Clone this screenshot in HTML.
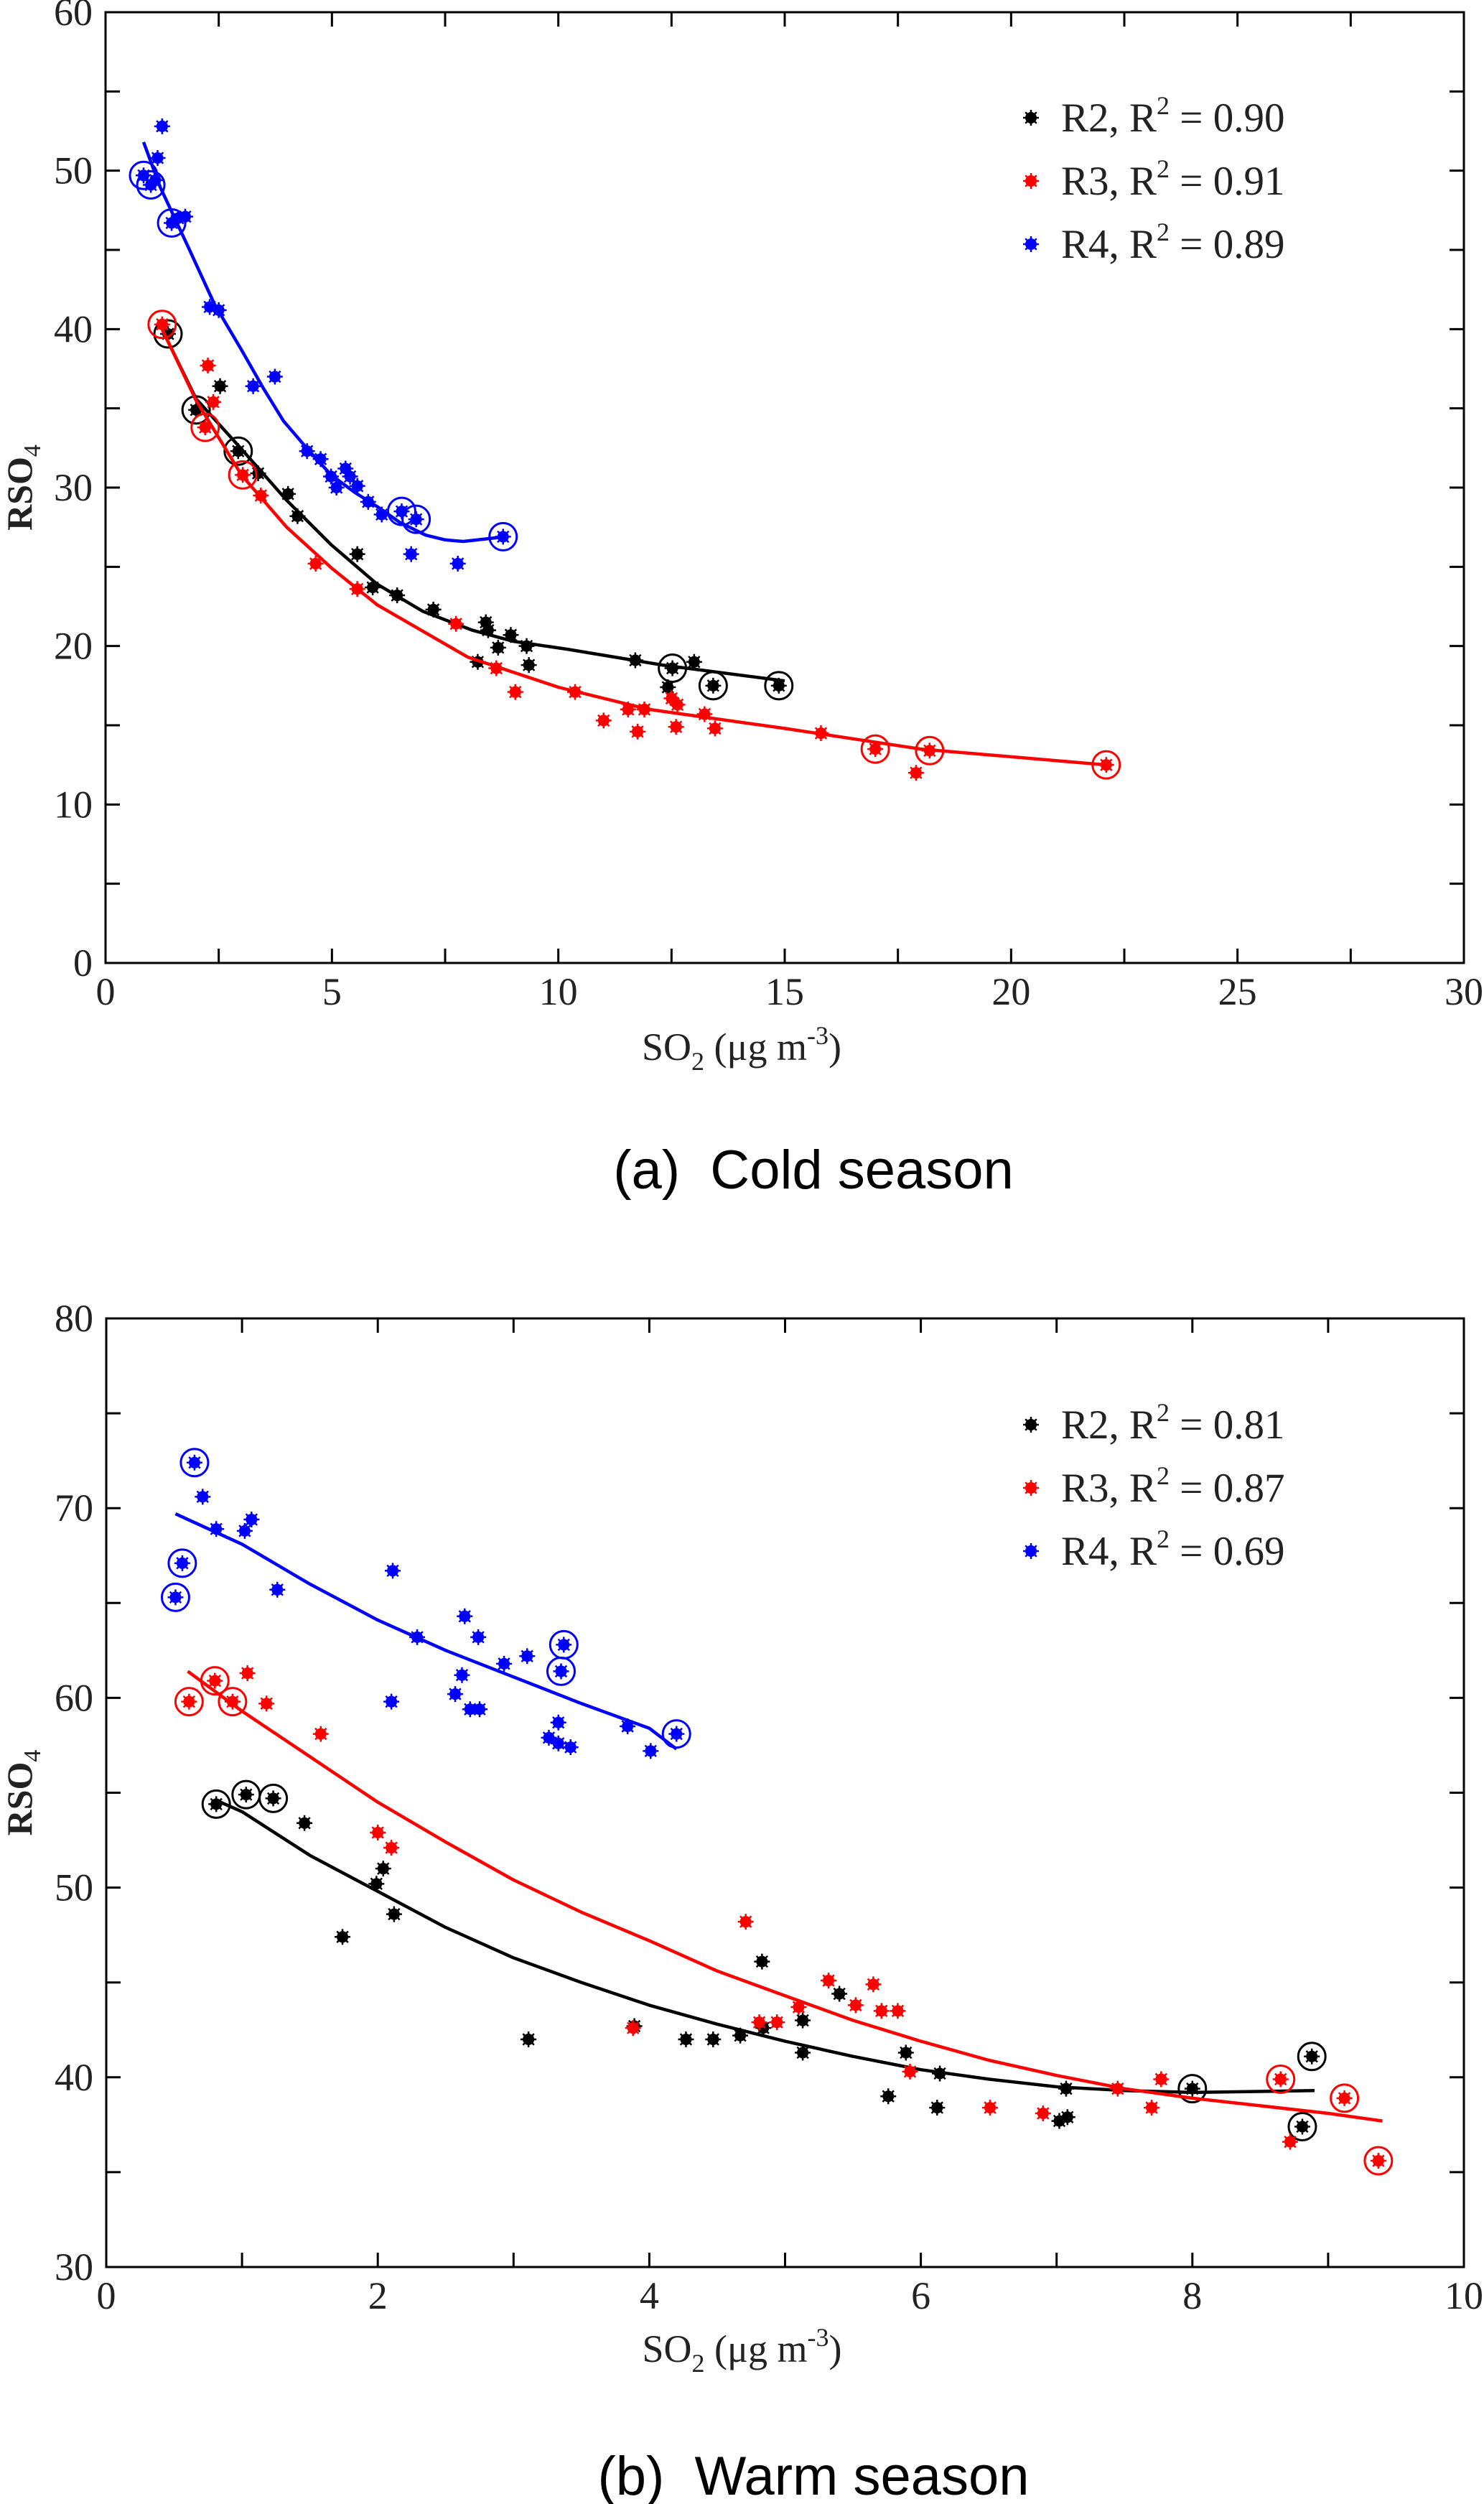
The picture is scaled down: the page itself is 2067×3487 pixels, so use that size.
<!DOCTYPE html>
<html><head><meta charset="utf-8"><style>
html,body{margin:0;padding:0;background:#fff}
svg{display:block}
</style></head><body>
<svg id="fig" width="2067" height="3487" viewBox="0 0 2067 3487" xmlns="http://www.w3.org/2000/svg">
<text x="1133" y="1655" font-family="'Liberation Sans',sans-serif" font-size="76" text-anchor="middle" xml:space="preserve">(a)  Cold season</text>
<text x="1133" y="3474" font-family="'Liberation Sans',sans-serif" font-size="76" text-anchor="middle" xml:space="preserve">(b)  Warm season</text>
</svg>
<script>
// ---- Cold season data ----
const coldR2x=[1.38,2.0,2.53,2.93,3.37,4.03,4.24,5.56,5.9,6.44,7.24,8.22,8.4,8.45,8.67,8.95,9.3,9.35,11.7,12.52,12.42,13.0,13.42,14.87];
const coldR2y=[39.7,34.9,36.4,32.3,30.9,29.6,28.2,25.8,23.7,23.2,22.3,19.0,21.5,21.0,19.9,20.7,20.0,18.8,19.1,18.6,17.4,19.0,17.5,17.5];
const coldR2c=[1,1,0,1,0,0,0,0,0,0,0,0,0,0,0,0,0,0,0,1,0,0,1,1];
const coldR2fx=[1.28,2,2.95,4,4.98,6,7,8.1,9,10.2,12.3,15.0];
const coldR2fy=[39.8,35.6,32.6,29.2,26.4,23.9,22.2,21.0,20.3,19.8,18.8,17.8];
const coldR3x=[1.25,2.2,2.26,2.38,3.03,3.43,4.64,5.56,7.74,8.63,9.05,10.37,11.0,11.54,11.75,11.9,12.5,12.63,12.6,13.23,13.46,15.8,17.0,18.2,17.9,22.1];
const coldR3y=[40.3,33.8,37.7,35.4,30.8,29.5,25.2,23.6,21.4,18.6,17.1,17.1,15.3,16.0,14.6,16.0,16.7,16.3,14.9,15.7,14.8,14.5,13.5,13.4,12.0,12.5];
const coldR3c=[1,1,0,0,1,0,0,0,0,0,0,0,0,0,0,0,0,0,0,0,0,0,1,1,0,1];
const coldR3fx=[1.2,2,3,4,5,6,8,10,12,15,18,22.1];
const coldR3fy=[40.3,35.5,30.8,27.5,24.9,22.6,19.3,17.4,16.0,14.8,13.5,12.5];
const coldR4x=[0.84,1.0,1.15,1.25,1.1,1.46,1.6,1.76,2.3,2.5,3.26,3.74,4.45,4.75,4.98,5.1,5.3,5.4,5.56,5.8,6.1,6.54,6.86,6.75,7.78,8.78];
const coldR4y=[49.7,49.1,50.8,52.8,49.4,46.7,47.0,47.1,41.4,41.2,36.4,37.0,32.3,31.8,30.7,30.0,31.2,30.7,30.1,29.1,28.3,28.5,28.0,25.8,25.2,26.9];
const coldR4c=[1,1,0,0,0,1,0,0,0,0,0,0,0,0,0,0,0,0,0,0,0,1,1,0,0,1];
const coldR4fx=[0.84,1.2,1.84,2.4,3.0,3.5,3.93,4.5,4.98,5.5,6.0,6.5,7.07,7.5,7.9,8.84];
const coldR4fy=[51.8,49.0,45.1,41.6,38.7,36.2,34.2,32.3,30.8,29.7,28.8,27.8,27.0,26.7,26.6,26.9];
const coldXTicks=[0,5,10,15,20,25,30];
const coldYTicks=[0,10,20,30,40,50,60];
const coldR2vals=["0.90","0.91","0.89"];
// ---- Warm season data ----
const warmR2x=[0.81,1.03,1.23,1.46,1.74,1.99,2.04,2.12,3.11,3.89,4.27,4.47,4.67,4.83,4.84,5.13,5.13,5.4,5.76,5.89,6.12,6.14,7.02,7.08,7.07,8.0,8.81,8.88];
const warmR2y=[54.4,54.9,54.7,53.4,47.4,50.2,51.0,48.6,42.0,42.7,42.0,42.0,42.2,46.1,42.6,43.0,41.3,44.4,39.0,41.3,38.4,40.2,37.7,37.9,39.4,39.4,37.4,41.1];
const warmR2c=[1,1,1,0,0,0,0,0,0,0,0,0,0,0,0,0,0,0,0,0,0,0,0,0,0,1,1,1];
const warmR2fx=[0.81,1,1.5,2,2.5,3,3.5,4,4.5,5,5.5,6,6.5,7,7.5,8,8.9];
const warmR2fy=[54.6,54.0,51.7,49.8,47.9,46.3,45.0,43.8,42.8,41.9,41.1,40.4,39.9,39.5,39.3,39.2,39.3];
const warmR3x=[0.61,0.8,0.93,1.04,1.18,1.58,2.0,2.1,3.88,4.71,4.81,4.94,5.1,5.32,5.52,5.65,5.71,5.83,5.92,6.51,6.9,7.45,7.7,7.77,8.65,8.72,9.12,9.37];
const warmR3y=[59.8,60.9,59.8,61.3,59.7,58.1,52.9,52.1,42.6,48.2,42.9,42.9,43.7,45.1,43.8,44.9,43.5,43.5,40.3,38.4,38.1,39.4,38.4,39.9,39.9,36.6,38.9,35.6];
const warmR3c=[1,1,1,0,0,0,0,0,0,0,0,0,0,0,0,0,0,0,0,0,0,0,0,0,1,0,1,1];
const warmR3fx=[0.6,1,1.5,2,2.5,3,3.5,4,4.5,5,5.5,6,6.5,7,7.5,8,8.5,9,9.4];
const warmR3fy=[61.4,59.3,56.9,54.5,52.4,50.4,48.7,47.2,45.6,44.3,43.0,41.9,40.9,40.1,39.4,38.9,38.5,38.1,37.7];
const warmR4x=[0.51,0.56,0.65,0.71,0.81,1.02,1.07,1.26,2.1,2.11,2.29,2.57,2.62,2.64,2.68,2.74,2.75,2.93,3.1,3.26,3.33,3.33,3.35,3.37,3.42,3.84,4.01,4.2];
const warmR4y=[65.3,67.1,72.4,70.6,68.9,68.8,69.4,65.7,59.8,66.7,63.2,60.2,61.2,64.3,59.4,63.2,59.4,61.8,62.2,57.9,57.6,58.7,61.4,62.8,57.4,58.5,57.2,58.1];
const warmR4c=[1,1,1,0,0,0,0,0,0,0,0,0,0,0,0,0,0,0,0,0,0,0,1,1,0,0,0,1];
const warmR4fx=[0.51,1,1.5,2,2.5,3,3.5,4,4.2];
const warmR4fy=[69.7,68.1,66.0,64.1,62.5,61.1,59.7,58.4,57.3];
const warmXTicks=[0,2,4,6,8,10];
const warmYTicks=[30,40,50,60,70,80];
const warmR2vals=["0.81","0.87","0.69"];

const NS="http://www.w3.org/2000/svg";
const svg=document.getElementById('fig');
function mk(tag,attrs,parent){const e=document.createElementNS(NS,tag);for(const k in attrs)e.setAttribute(k,attrs[k]);(parent||svg).appendChild(e);return e;}
const SERIF="'Liberation Serif',serif";

function panel(o){
  const g=mk('g',{});
  
  
  const X=v=>o.L+(v-o.x0)/(o.x1-o.x0)*(o.R-o.L);
  const Y=v=>o.B-(v-o.y0)/(o.y1-o.y0)*(o.B-o.T);
  const fr=mk('rect',{x:o.L,y:o.T,width:o.R-o.L,height:o.B-o.T,fill:'none',stroke:'#000','stroke-width':3},g);
  
  
  const tl=20;
  for(let v=o.x0;v<=o.x1+1e-9;v+=o.xminor){
    const x=X(v);
    const t1=mk('line',{x1:x,y1:o.B,x2:x,y2:o.B-tl,stroke:'#000','stroke-width':3},g);
    
    
    const t2=mk('line',{x1:x,y1:o.T,x2:x,y2:o.T+tl,stroke:'#000','stroke-width':3},g);
    
    
  }
  for(let v=o.y0;v<=o.y1+1e-9;v+=o.yminor){
    const y=Y(v);
    const t1=mk('line',{x1:o.L,y1:y,x2:o.L+tl,y2:y,stroke:'#000','stroke-width':3},g);
    
    
    const t2=mk('line',{x1:o.R,y1:y,x2:o.R-tl,y2:y,stroke:'#000','stroke-width':3},g);
    
    
  }
  o.xt.forEach(v=>{
    const t=mk('text',{x:X(v),y:o.B+58,'font-family':SERIF,'font-size':54,'text-anchor':'middle',fill:'#222'},g);
    t.textContent=v;
    
    
  });
  o.yt.forEach(v=>{
    const t=mk('text',{x:o.L-18,y:Y(v)+18,'font-family':SERIF,'font-size':54,'text-anchor':'end',fill:'#222'},g);
    t.textContent=v;
    
    
  });
  const xt=mk('text',{x:(o.L+o.R)/2-60,y:o.B+o.xtOff,'font-family':SERIF,'font-size':54,'text-anchor':'middle',fill:'#222'},g);
  
  
  xt.innerHTML='SO<tspan dy="14" font-size="36">2</tspan><tspan dy="-14"> (μg m</tspan><tspan dy="-22" font-size="36">-3</tspan><tspan dy="22">)</tspan>';
  const cy=(o.T+o.B)/2;
  const yt=mk('text',{x:0,y:0,transform:`translate(44,${cy}) rotate(-90)`,'font-family':SERIF,'font-size':50,'font-weight':'bold','text-anchor':'middle',fill:'#222'},g);
  
  
  yt.innerHTML='RSO<tspan dy="12" font-size="34" font-weight="normal">4</tspan>';
  o.series.forEach((s,i)=>{
    const sg=mk('g',{},g);
    
    
    const d=s.fx.map((x,j)=>(j?'L':'M')+X(x).toFixed(1)+','+Y(s.fy[j]).toFixed(1)).join(' ');
    const p=mk('path',{d:d,fill:'none',stroke:s.color,'stroke-width':4.5,'stroke-linejoin':'round'},sg);
    
    
    s.x.forEach((x,j)=>{
      const cx=X(x),cyy=Y(s.y[j]);
      const m=mk('g',{},sg);
      
      
      mk('circle',{cx:cx,cy:cyy,r:8,fill:s.color},m);
      for(let a=0;a<4;a++){const ang=a*Math.PI/4;mk('line',{x1:cx-11*Math.cos(ang),y1:cyy-11*Math.sin(ang),x2:cx+11*Math.cos(ang),y2:cyy+11*Math.sin(ang),stroke:s.color,'stroke-width':2.5},m);}
      if(s.c[j]) mk('circle',{cx:cx,cy:cyy,r:19,fill:'none',stroke:s.color,'stroke-width':3},m);
    });
    const ly=o.legY+i*o.legDy;
    const lm=mk('g',{},g);
    
    
    mk('circle',{cx:1436,cy:ly,r:8,fill:s.color},lm);
    for(let a=0;a<4;a++){const ang=a*Math.PI/4;mk('line',{x1:1436-11*Math.cos(ang),y1:ly-11*Math.sin(ang),x2:1436+11*Math.cos(ang),y2:ly+11*Math.sin(ang),stroke:s.color,'stroke-width':2.5},lm);}
    const lt=mk('text',{x:1478,y:ly+19,'font-family':SERIF,'font-size':57,fill:'#222'},lm);
    lt.innerHTML=s.label+', R<tspan dy="-24" font-size="36">2</tspan><tspan dy="24"> = '+s.r2+'</tspan>';
  });
}
panel({name:'cold-season-chart',L:147,R:2039,T:17,B:1341,x0:0,x1:30,y0:0,y1:60,xminor:2.5,yminor:5,xt:coldXTicks,yt:coldYTicks,legY:164,legDy:88,xtOff:135,
 series:[
  {label:'R2',color:'#000',x:coldR2x,y:coldR2y,c:coldR2c,fx:coldR2fx,fy:coldR2fy,r2:coldR2vals[0]},
  {label:'R3',color:'#ff0000',x:coldR3x,y:coldR3y,c:coldR3c,fx:coldR3fx,fy:coldR3fy,r2:coldR2vals[1]},
  {label:'R4',color:'#0000ff',x:coldR4x,y:coldR4y,c:coldR4c,fx:coldR4fx,fy:coldR4fy,r2:coldR2vals[2]}]});
panel({name:'warm-season-chart',L:148,R:2039,T:1836,B:3157,x0:0,x1:10,y0:30,y1:80,xminor:1,yminor:5,xt:warmXTicks,yt:warmYTicks,legY:1984,legDy:88,xtOff:132,
 series:[
  {label:'R2',color:'#000',x:warmR2x,y:warmR2y,c:warmR2c,fx:warmR2fx,fy:warmR2fy,r2:warmR2vals[0]},
  {label:'R3',color:'#ff0000',x:warmR3x,y:warmR3y,c:warmR3c,fx:warmR3fx,fy:warmR3fy,r2:warmR2vals[1]},
  {label:'R4',color:'#0000ff',x:warmR4x,y:warmR4y,c:warmR4c,fx:warmR4fx,fy:warmR4fy,r2:warmR2vals[2]}]});
</script>
</body></html>
